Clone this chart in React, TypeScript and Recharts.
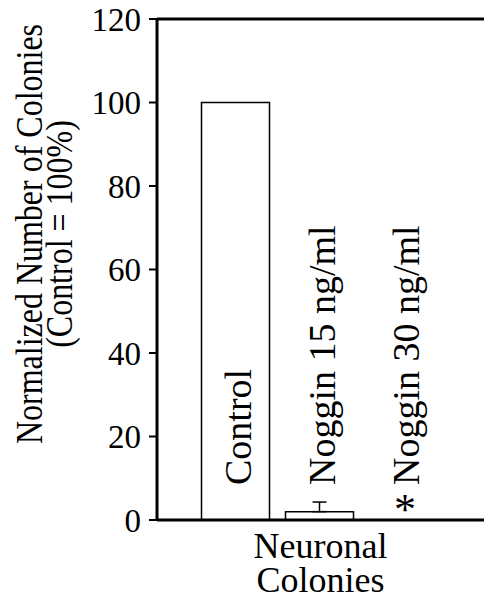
import React from 'react';
import { BarChart, Bar, XAxis, YAxis, ReferenceLine, ErrorBar, Label } from 'recharts';

const FONT = "'Liberation Serif', 'Times New Roman', Tinos, 'DejaVu Serif', serif";

const categories = ['Control', 'Noggin 15 ng/ml', 'Noggin 30 ng/ml'];
const values = [100, 2, 0];
const upperErrors = [0, 2.3, 0];
const significance = ['', '', '*'];
const yTicks = [0, 20, 40, 60, 80, 100, 120];
const yLabelLines = ['Normalized Number of Colonies', '(Control = 100%)'];
const xLabelLines = ['Neuronal', 'Colonies'];

const data = categories.map((name, i) => ({
  name,
  value: values[i],
  err: upperErrors[i] > 0 ? [0, upperErrors[i]] : undefined,
  sig: significance[i],
}));

const CatTick = (props: any) => {
  const { x, y, payload } = props;
  const idx = payload && payload.index != null ? payload.index : categories.indexOf(payload.value);
  const cx = Number(x);
  const axisY = Number(y);
  const sig = significance[idx];
  return (
    <g>
      <text
        transform={`translate(${cx + 15},${axisY - 43}) rotate(-90)`}
        style={{ fontFamily: FONT, fontSize: 38 }}
        fill="#000"
        textAnchor="start"
      >
        {payload.value}
      </text>
      {sig ? (
        <text x={cx + 1.5} y={axisY - 4} style={{ fontFamily: FONT, fontSize: 44 }} fill="#000" textAnchor="middle">
          {sig}
        </text>
      ) : null}
    </g>
  );
};

const YTick = (props: any) => {
  const { x, y, payload } = props;
  return (
    <text x={Number(x)} y={Number(y)} dy="0.35em" style={{ fontFamily: FONT, fontSize: 33 }} fill="#000" textAnchor="end">
      {payload.value}
    </text>
  );
};

const YLabel = () => {
  const baselines = [42, 72];
  return (
    <g>
      {yLabelLines.map((line, i) => (
        <text
          key={i}
          transform={`translate(${baselines[i]},234) rotate(-90) scale(1,1.2)`}
          style={{ fontFamily: FONT, fontSize: 32 }}
          fill="#000"
          textAnchor="middle"
        >
          {line}
        </text>
      ))}
    </g>
  );
};

const XLabel = (props: any) => {
  const vb = props.viewBox || { x: 157, y: 520, width: 327, height: 76 };
  const cx = vb.x + vb.width / 2;
  const offsets = [38, 72];
  return (
    <g>
      {xLabelLines.map((line, i) => (
        <text
          key={i}
          x={cx}
          y={vb.y + offsets[i]}
          style={{ fontFamily: FONT, fontSize: 36 }}
          fill="#000"
          textAnchor="middle"
        >
          {line}
        </text>
      ))}
    </g>
  );
};

export default function App() {
  return (
    <div style={{ position: 'absolute', left: 0, top: 0, background: '#fff' }}>
      <BarChart
        width={484}
        height={596}
        data={data}
        margin={{ top: 19, right: 0, bottom: 0, left: 0 }}
        barCategoryGap={8}
      >
        <XAxis
          dataKey="name"
          height={76}
          padding={{ left: 36.5, right: 38.5 }}
          tick={CatTick}
          tickLine={false}
          interval={0}
          axisLine={{ stroke: '#000', strokeWidth: 3 }}
        >
          <Label content={XLabel} />
        </XAxis>
        <YAxis
          width={157}
          domain={[0, 120]}
          ticks={yTicks}
          interval={0}
          tickSize={8}
          tickMargin={8}
          tickLine={{ stroke: '#000', strokeWidth: 2 }}
          axisLine={{ stroke: '#000', strokeWidth: 3 }}
          tick={YTick}
        >
          <Label content={YLabel} />
        </YAxis>
        <ReferenceLine y={120} stroke="#000" strokeWidth={3} />
        <Bar dataKey="value" fill="none" stroke="#000" strokeWidth={1.5} isAnimationActive={false}>
          <ErrorBar dataKey="err" width={7} stroke="#000" strokeWidth={1.5} direction="y" isAnimationActive={false} />
        </Bar>
      </BarChart>
    </div>
  );
}
